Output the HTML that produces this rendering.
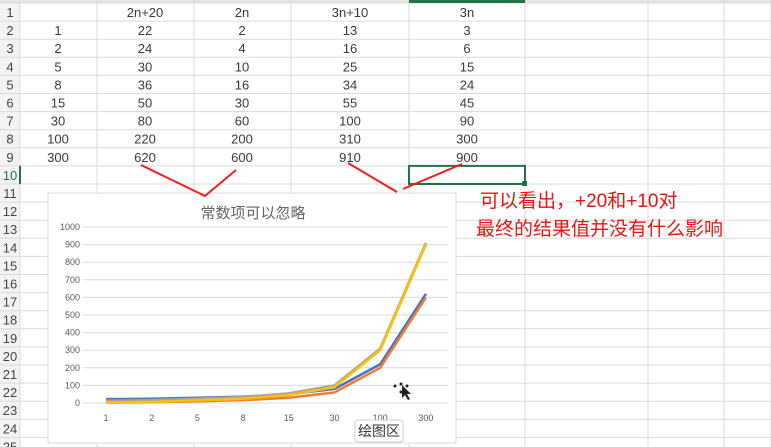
<!DOCTYPE html>
<html><head><meta charset="utf-8"><style>
body{margin:0;width:771px;height:447px;overflow:hidden;background:#fff;font-family:"Liberation Sans","Noto Sans CJK SC",sans-serif;position:relative}
.abs{position:absolute}
</style></head><body>
<svg class="abs" style="left:0;top:0" width="771" height="447">
<g id="grid"></g>
<g id="cells" font-size="13" fill="#3a3a3a" text-anchor="middle"></g>
</svg>
<svg class="abs" style="left:0;top:0" width="771" height="447">
<rect x="48" y="193" width="408" height="250" fill="#fff" stroke="#d9d9d9"/>
<text x="253" y="218" text-anchor="middle" font-size="15" fill="#666">常数项可以忽略</text>
<g id="plot"></g>
<g stroke="#ee1c1c" stroke-width="2" fill="none">
<polyline points="141,165 205,196 236,170"/>
<polyline points="348,163 397,192"/>
<polyline points="403,189 462,164"/>
</g>
<text x="480" y="207" font-size="19" fill="#f01010">可以看出，+20和+10对</text>
<text x="476" y="235" font-size="19" fill="#f01010">最终的结果值并没有什么影响</text>
<g fill="#222"><circle cx="401" cy="384" r="1.5"/><circle cx="395" cy="386" r="1.5"/><circle cx="407" cy="386" r="1.5"/><circle cx="401" cy="392" r="1.5"/><polygon points="402,385 402,398 405,395 408,400 410,399 407,394 411,394"/></g>
<rect x="355" y="420" width="48" height="22" rx="3" fill="#fff" stroke="#ccc"/>
<text x="379" y="436" text-anchor="middle" font-size="14" fill="#333">绘图区</text>
</svg>
<script>
const headers=["","2n+20","2n","3n+10","3n"];
const nVals=[1,2,5,8,15,30,100,300];
const s2n20=[22,24,30,36,50,80,220,620];
const s2n=[2,4,10,16,30,60,200,600];
const s3n10=[13,16,25,34,55,100,310,910];
const s3n=[3,6,15,24,45,90,300,900];
const yTicks=[0,100,200,300,400,500,600,700,800,900,1000];
const NS="http://www.w3.org/2000/svg";
function mk(t,a,p){const e=document.createElementNS(NS,t);for(const k in a)e.setAttribute(k,a[k]);p.appendChild(e);return e;}
const grid=document.getElementById('grid'),cells=document.getElementById('cells');
const colX=[20,97,194,291,409,525,648,724,771];
const rowTop=r=>3+(r-1)*18.1;
mk('rect',{x:0,y:0,width:20,height:447,fill:'#f3f3f3'},grid);
mk('rect',{x:0,y:0,width:771,height:3,fill:'#e6e6e6'},grid);
for(const x of colX){mk('line',{x1:x,y1:0,x2:x,y2:447,stroke:'#dadada'},grid);}
for(let r=1;r<=25;r++){const y=rowTop(r);mk('line',{x1:0,y1:y,x2:771,y2:y,stroke:'#dadada'},grid);
const t=mk('text',{x:10,y:y+14,'font-size':13,fill:r==10?'#217346':'#444','text-anchor':'middle'},grid);t.textContent=r;}
mk('rect',{x:19,y:rowTop(10),width:2,height:18,fill:'#217346'},grid);
mk('rect',{x:409,y:0,width:116,height:3,fill:'#217346'},grid);
const sel=mk('rect',{x:409,y:rowTop(10),width:116,height:18.1,fill:'none',stroke:'#217346','stroke-width':2},grid);


mk('rect',{x:522,y:rowTop(11)-3,width:5,height:5,fill:'#217346'},grid);
const cc=[58,145,242,350,467];
headers.forEach((h,i)=>{const t=mk('text',{x:cc[i],y:rowTop(1)+14},cells);t.textContent=h;});
const cols=[nVals,s2n20,s2n,s3n10,s3n];
for(let r=0;r<nVals.length;r++)cols.forEach((c,i)=>{const t=mk('text',{x:cc[i],y:rowTop(r+2)+14},cells);t.textContent=c[r];});
const plot=document.getElementById('plot');
const y0=403,yPer=(403-227)/1000;const yS=v=>y0-v*yPer;
const xS=i=>106+i*45.7;
yTicks.forEach(v=>{mk('line',{x1:83,x2:448,y1:yS(v),y2:yS(v),stroke:'#d9d9d9'},plot);
const t=mk('text',{x:80,y:yS(v)+3,'font-size':9,fill:'#595959','text-anchor':'end'},plot);t.textContent=v;

});
nVals.forEach((n,i)=>{const t=mk('text',{x:xS(i),y:421,'font-size':9,fill:'#595959','text-anchor':'middle'},plot);t.textContent=n;

});
const series=[[s2n20,'#4472c4','line-2n-plus-20'],[s2n,'#ed7d31','line-2n'],[s3n10,'#a5a5a5','line-3n-plus-10'],[s3n,'#ffc000','line-3n']];
series.forEach(([d,c,nm])=>{const p=mk('polyline',{points:d.map((v,i)=>xS(i)+','+yS(v)).join(' '),fill:'none',stroke:c,'stroke-width':2.5,'stroke-linejoin':'round'},plot);

});
</script>
</body></html>
